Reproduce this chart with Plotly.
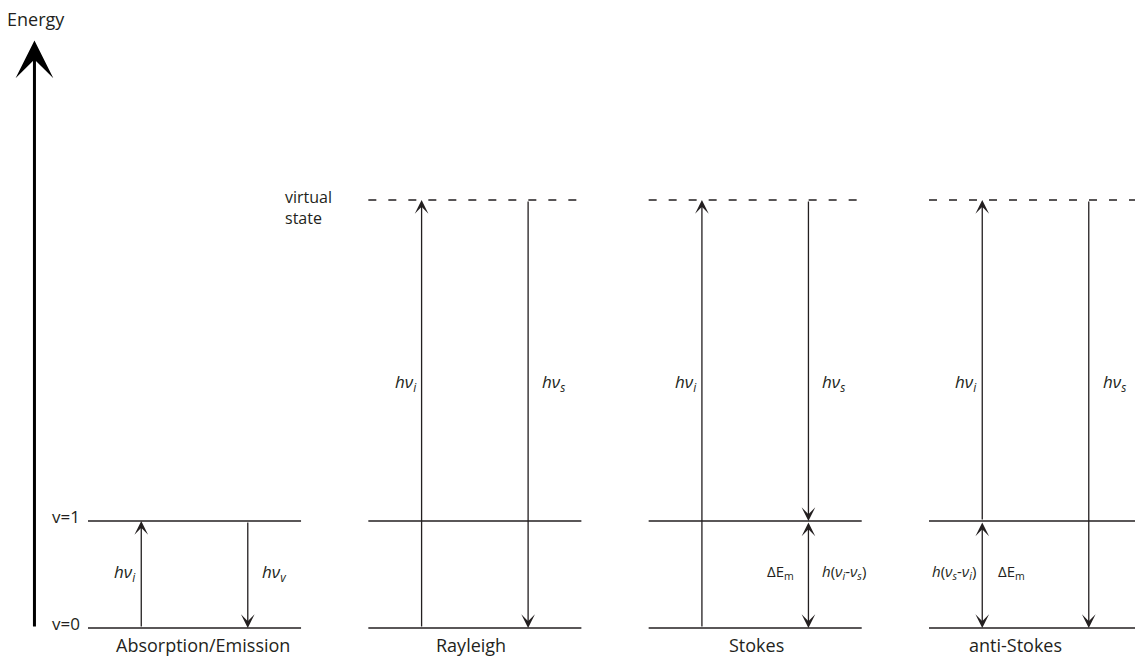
import plotly.graph_objects as go

# Energy levels (in units of the vibrational quantum)
level_names = ["v=0", "v=1", "virtual"]
level_energy = [0.0, 1.0, 4.0]

# Panels and where the virtual state is drawn
panel_names = ["Absorption/Emission", "Rayleigh", "Stokes", "anti-Stokes"]
panel_has_virtual = [False, True, True, True]

# Transitions: panel, slot (0 = left arrow, 1 = right arrow), start level, end level, heads
tr_panel = [0, 0, 1, 1, 2, 2, 2, 3, 3, 3]
tr_slot = [0, 1, 0, 1, 0, 1, 1, 0, 0, 1]
tr_from = [0, 1, 0, 2, 0, 2, 1, 1, 1, 2]
tr_to = [1, 0, 2, 0, 2, 1, 0, 2, 0, 0]
tr_side = ["end", "end", "end", "end", "end", "end", "end+start", "end", "end+start", "end"]

# Text labels next to arrows: panel, slot, side of arrow, energy, text
lab_panel = [0, 0, 1, 1, 2, 2, 2, 2, 3, 3, 3, 3]
lab_slot = [0, 1, 0, 1, 0, 1, 1, 1, 0, 1, 0, 0]
lab_side = ["left", "right", "left", "right", "left", "right", "left", "right",
            "left", "right", "left", "right"]
lab_energy = [0.52, 0.52, 2.29, 2.29, 2.29, 2.29, 0.52, 0.52, 2.29, 2.29, 0.52, 0.52]
HV = "<i>h</i><i>ν</i><sub><i>{}</i></sub>"
lab_text = [HV.format("i"), HV.format("v"), HV.format("i"), HV.format("s"),
            HV.format("i"), HV.format("s"), "ΔE<sub>m</sub>",
            "<i>h</i>(<i>ν</i><sub><i>i</i></sub>-<i>ν</i><sub><i>s</i></sub>)",
            HV.format("i"), HV.format("s"),
            "<i>h</i>(<i>ν</i><sub><i>s</i></sub>-<i>ν</i><sub><i>i</i></sub>)", "ΔE<sub>m</sub>"]

# Styling for the arrow labels (font size, horizontal gap to the arrow in px)
lab_size = [17, 17, 17, 17, 17, 17, 15, 15, 17, 17, 15, 15]
lab_gap = [3, 12, 3, 12, 3, 12, 12, 12, 3, 12, 4, 14]
# Panel title centres, as offsets from the panel's left edge (panel units)
panel_label_x = [0.41, 0.367, 0.383, 0.307]

PANEL_W = 0.76          # width of a level line, in panel units
SLOT_X = [0.19, 0.57]   # arrow positions within a panel
INK = "#231f20"
FONT = "Open Sans, Noto Sans, sans-serif"

fig = go.Figure()
shapes = []
ann = []

# Level lines and panel titles
for p, has_virtual in enumerate(panel_has_virtual):
    for name, e in zip(level_names, level_energy):
        if name == "virtual" and not has_virtual:
            continue
        shapes.append(dict(type="line", xref="x", yref="y", x0=p, x1=p + PANEL_W, y0=e, y1=e,
                           line=dict(color=INK, width=1.4,
                                     dash="8px,12px" if name == "virtual" else "solid")))
    ann.append(dict(x=p + panel_label_x[p], y=level_energy[0], xref="x", yref="y",
                    text=panel_names[p], showarrow=False, yanchor="middle", yshift=-17,
                    font=dict(size=18, color=INK, family=FONT)))

# Transition arrows
for p, s, a, b, side in zip(tr_panel, tr_slot, tr_from, tr_to, tr_side):
    x = p + SLOT_X[s]
    ann.append(dict(x=x, y=level_energy[b], ax=x, ay=level_energy[a],
                    xref="x", yref="y", axref="x", ayref="y", text="",
                    showarrow=True, arrowhead=3, startarrowhead=3, arrowside=side,
                    arrowwidth=1.3, arrowsize=1.75, startarrowsize=1.75, arrowcolor=INK))

# Arrow labels
for p, s, side, e, t, fs, g in zip(lab_panel, lab_slot, lab_side, lab_energy, lab_text,
                                   lab_size, lab_gap):
    x = p + SLOT_X[s]
    ann.append(dict(x=x, y=e, xref="x", yref="y", text=t, showarrow=False,
                    xanchor="right" if side == "left" else "left",
                    xshift=-g if side == "left" else g,
                    font=dict(size=fs, color=INK, family=FONT)))

# Level names on the left
for name, e in zip(level_names[:2], level_energy[:2]):
    ann.append(dict(x=0, y=e, xref="x", yref="y", text=name, showarrow=False,
                    xanchor="right", xshift=-6, yshift=5,
                    font=dict(size=17, color=INK, family=FONT)))
ann.append(dict(x=1, y=level_energy[2], xref="x", yref="y", text="virtual<br>state",
                showarrow=False, xanchor="right", yanchor="middle", xshift=-34, yshift=-8,
                align="left", font=dict(size=16, color=INK, family=FONT)))

# Energy axis arrow
E_TOP = 5.49
ann.append(dict(x=-0.191, y=E_TOP, ax=-0.191, ay=0, xref="x", yref="y", axref="x", ayref="y",
                text="", showarrow=True, arrowhead=3, arrowwidth=3, arrowsize=2.1,
                arrowcolor="#000"))
ann.append(dict(x=0.0, y=1.0, xref="paper", yref="paper", text="Energy", showarrow=False,
                xanchor="left", yanchor="top", xshift=5, yshift=-5,
                font=dict(size=18, color=INK, family=FONT)))

fig.update_layout(
    width=1135, height=657, margin=dict(l=0, r=0, t=0, b=0),
    paper_bgcolor="white", plot_bgcolor="white", showlegend=False,
    shapes=shapes, annotations=ann,
    xaxis=dict(range=[-0.3139, 3.7349], visible=False, fixedrange=True),
    yaxis=dict(range=[-0.271, 5.869], visible=False, fixedrange=True),
)

fig.write_html("out.html")
